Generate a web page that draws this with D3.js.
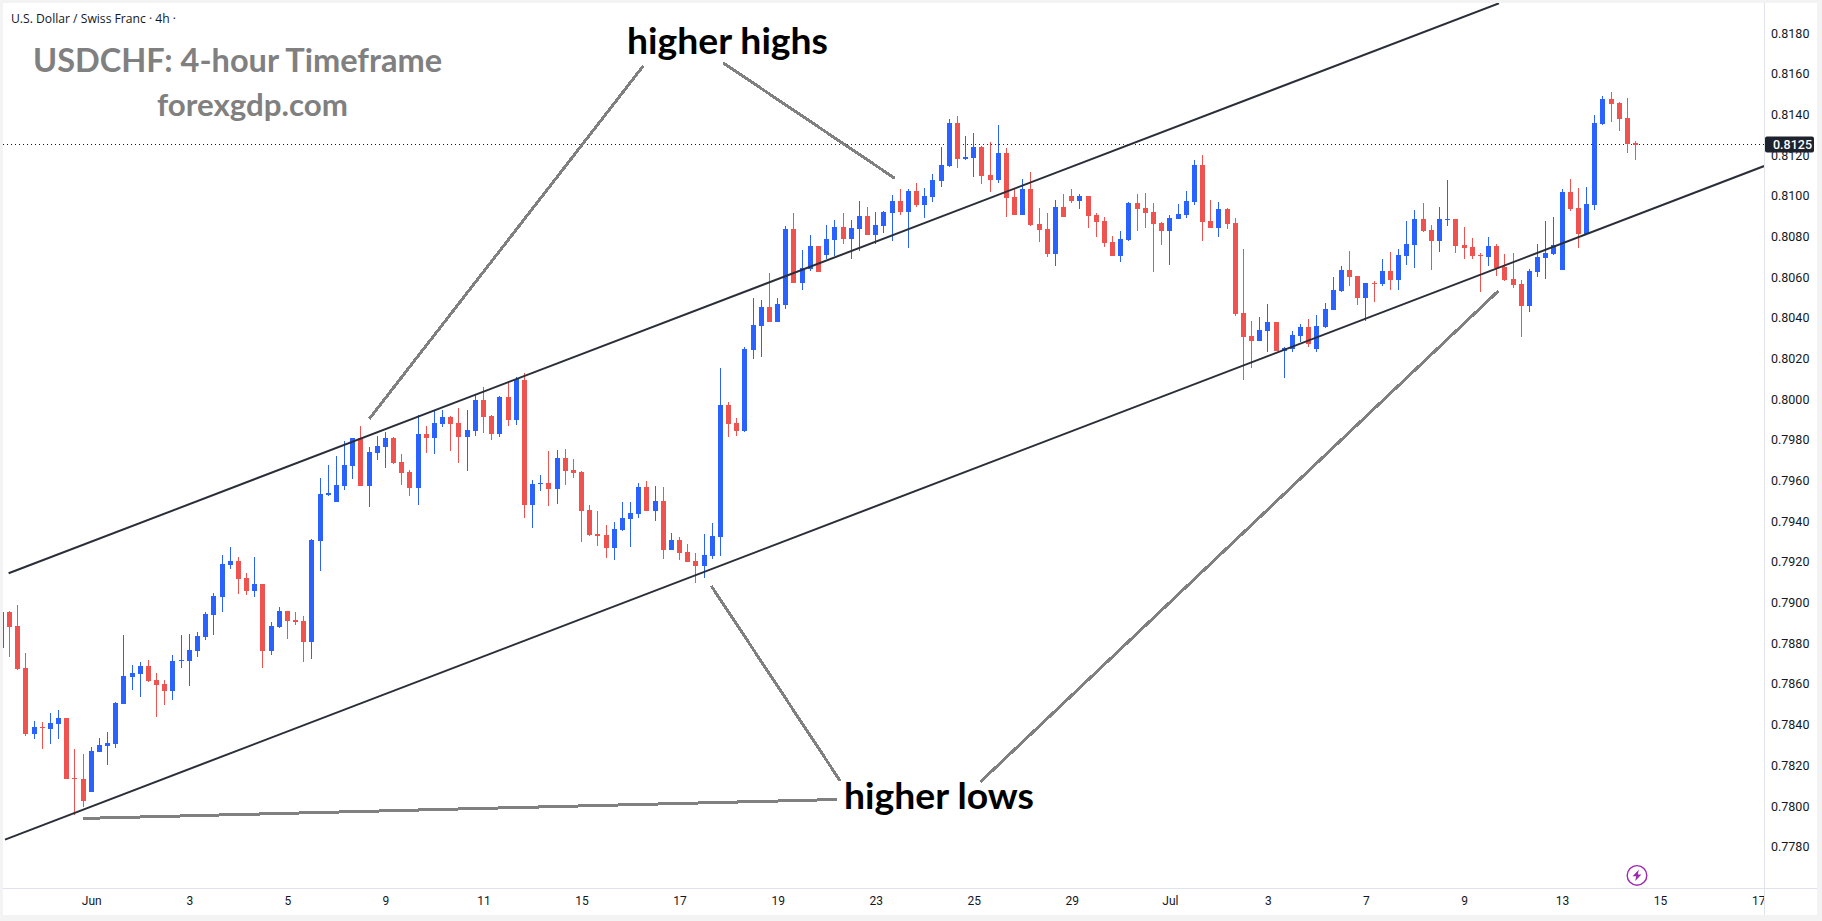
<!DOCTYPE html>
<html>
<head>
<meta charset="utf-8">
<title>USDCHF 4-hour</title>
<script src="https://cdn.jsdelivr.net/npm/d3@7"></script>
<style>
  html, body { margin: 0; padding: 0; background: #fff; }
  svg { display: block; }
  .axis text { font-family: Roboto, "Liberation Sans", sans-serif; fill: #131722; }
</style>
</head>
<body>
<svg id="chart" width="1822" height="921"></svg>
<script>
// USD/CHF candles, four-hour bars, oldest first
const opens = [
0.78779,0.78954,0.78885,0.78679,0.78354,0.78389,0.78379,0.78403,0.78433,0.78138,
0.78133,0.78069,0.78266,0.78295,0.78305,0.78502,0.78634,0.78649,0.78689,0.78620,
0.78600,0.78566,0.78713,0.78713,0.78762,0.78831,0.78939,0.79028,0.79185,0.79205,
0.79121,0.79057,0.79092,0.78762,0.78880,0.78959,0.78915,0.78910,0.78807,0.79303,
0.79529,0.79495,0.79574,0.79672,0.79810,0.79574,0.79736,0.79765,0.79810,0.79692,
0.79642,0.79564,0.79829,0.79810,0.79878,0.79913,0.79883,0.79814,0.79844,0.79996,
0.79918,0.79829,0.80011,0.79898,0.80095,0.79480,0.79583,0.79588,0.79558,0.79711,
0.79652,0.79642,0.79455,0.79337,0.79332,0.79268,0.79357,0.79411,0.79435,0.79568,
0.79450,0.79499,0.79258,0.79307,0.79248,0.79204,0.79180,0.79229,0.79322,0.79971,
0.79883,0.79843,0.80242,0.80360,0.80453,0.80379,0.80463,0.80836,0.80571,0.80640,
0.80753,0.80709,0.80783,0.80847,0.80788,0.80837,0.80901,0.80807,0.80852,0.80915,
0.80974,0.80920,0.81024,0.80955,0.80994,0.81073,0.81146,0.81358,0.81181,0.81186,
0.81240,0.81102,0.81078,0.81210,0.80994,0.80906,0.81033,0.80861,0.80837,0.80714,
0.80945,0.80999,0.80974,0.80999,0.80905,0.80876,0.80773,0.80704,0.80782,0.80964,
0.80940,0.80920,0.80866,0.80827,0.80886,0.80905,0.80969,0.81151,0.80876,0.80841,
0.80935,0.80866,0.80424,0.80310,0.80286,0.80335,0.80379,0.80237,0.80246,0.80310,
0.80355,0.80246,0.80355,0.80438,0.80532,0.80635,0.80605,0.80498,0.80571,0.80566,
0.80630,0.80586,0.80704,0.80758,0.80886,0.80832,0.80778,0.80881,0.80886,0.80758,
0.80748,0.80709,0.80699,0.80753,0.80650,0.80591,0.80566,0.80458,0.80625,0.80694,
0.80714,0.80635,0.81019,0.80940,0.80812,0.80955,0.81354,0.81477,0.81457,0.81383,
0.81260];
const highs = [
0.78956,0.78959,0.78988,0.78752,0.78418,0.78413,0.78458,0.78472,0.78433,0.78281,
0.78256,0.78290,0.78335,0.78364,0.78512,0.78841,0.78693,0.78708,0.78718,0.78654,
0.78620,0.78743,0.78841,0.78846,0.78856,0.78954,0.79047,0.79234,0.79274,0.79224,
0.79146,0.79224,0.79092,0.78905,0.78979,0.78959,0.78954,0.78934,0.79313,0.79613,
0.79677,0.79721,0.79795,0.79810,0.79868,0.79765,0.79819,0.79839,0.79814,0.79731,
0.79652,0.79923,0.79868,0.79942,0.79947,0.79918,0.79957,0.79947,0.80021,0.80060,
0.79923,0.80016,0.80090,0.80109,0.80129,0.79603,0.79628,0.79746,0.79750,0.79755,
0.79706,0.79647,0.79480,0.79450,0.79381,0.79396,0.79494,0.79494,0.79588,0.79598,
0.79573,0.79568,0.79342,0.79322,0.79288,0.79244,0.79337,0.79391,0.80153,0.79986,
0.79907,0.80256,0.80497,0.80487,0.80620,0.80497,0.80851,0.80915,0.80734,0.80807,
0.80753,0.80856,0.80881,0.80915,0.80881,0.80974,0.80945,0.80920,0.80925,0.81004,
0.81033,0.81033,0.81063,0.81038,0.81107,0.81240,0.81378,0.81392,0.81294,0.81309,
0.81245,0.81264,0.81348,0.81235,0.81033,0.81083,0.81117,0.80940,0.80915,0.80979,
0.81009,0.81033,0.81009,0.80999,0.80915,0.80895,0.80802,0.80827,0.80969,0.81009,
0.81013,0.80964,0.80871,0.80905,0.80959,0.81023,0.81176,0.81200,0.80979,0.80969,
0.80940,0.80891,0.80738,0.80384,0.80404,0.80468,0.80379,0.80256,0.80335,0.80369,
0.80394,0.80414,0.80473,0.80601,0.80655,0.80728,0.80605,0.80571,0.80581,0.80689,
0.80724,0.80738,0.80876,0.80930,0.80965,0.80856,0.80945,0.81078,0.80886,0.80847,
0.80792,0.80719,0.80797,0.80763,0.80714,0.80719,0.80586,0.80640,0.80763,0.80876,
0.80896,0.81033,0.81083,0.81038,0.81043,0.81398,0.81491,0.81511,0.81462,0.81482,
0.81270];
const lows = [
0.78779,0.78734,0.78669,0.78344,0.78330,0.78281,0.78305,0.78330,0.78133,0.77956,
0.77995,0.78069,0.78266,0.78202,0.78285,0.78502,0.78571,0.78536,0.78610,0.78438,
0.78497,0.78521,0.78679,0.78590,0.78733,0.78816,0.78841,0.78954,0.79165,0.79043,
0.79038,0.79028,0.78679,0.78743,0.78875,0.78821,0.78890,0.78710,0.78723,0.79156,
0.79524,0.79495,0.79554,0.79608,0.79574,0.79470,0.79701,0.79662,0.79682,0.79578,
0.79524,0.79480,0.79736,0.79731,0.79864,0.79746,0.79687,0.79647,0.79819,0.79834,
0.79800,0.79814,0.79868,0.79873,0.79416,0.79367,0.79549,0.79475,0.79485,0.79578,
0.79612,0.79298,0.79327,0.79278,0.79219,0.79209,0.79352,0.79273,0.79416,0.79450,
0.79401,0.79214,0.79258,0.79209,0.79199,0.79096,0.79121,0.79214,0.79229,0.79814,
0.79819,0.79838,0.80197,0.80207,0.80379,0.80379,0.80443,0.80571,0.80537,0.80630,
0.80625,0.80689,0.80704,0.80763,0.80689,0.80729,0.80807,0.80763,0.80817,0.80778,
0.80906,0.80743,0.80945,0.80891,0.80970,0.81043,0.81142,0.81137,0.81176,0.81092,
0.81058,0.81019,0.81063,0.80896,0.80906,0.80906,0.80852,0.80773,0.80699,0.80655,
0.80896,0.80965,0.80935,0.80841,0.80797,0.80748,0.80704,0.80674,0.80777,0.80827,
0.80841,0.80625,0.80758,0.80660,0.80886,0.80891,0.80954,0.80777,0.80841,0.80797,
0.80837,0.80409,0.80094,0.80153,0.80286,0.80232,0.80237,0.80104,0.80232,0.80281,
0.80256,0.80232,0.80350,0.80438,0.80527,0.80556,0.80463,0.80384,0.80478,0.80557,
0.80537,0.80537,0.80660,0.80645,0.80822,0.80635,0.80724,0.80851,0.80719,0.80689,
0.80689,0.80527,0.80655,0.80606,0.80581,0.80547,0.80306,0.80429,0.80601,0.80591,
0.80709,0.80635,0.80925,0.80743,0.80812,0.80931,0.81349,0.81364,0.81319,0.81211,
0.81177];
const closes = [
0.78956,0.78882,0.78674,0.78354,0.78389,0.78384,0.78408,0.78433,0.78133,0.78133,
0.78025,0.78271,0.78300,0.78310,0.78507,0.78639,0.78654,0.78689,0.78615,0.78595,
0.78566,0.78713,0.78718,0.78767,0.78836,0.78944,0.79033,0.79190,0.79205,0.79116,
0.79057,0.79092,0.78762,0.78885,0.78959,0.78910,0.78905,0.78807,0.79308,0.79534,
0.79539,0.79578,0.79677,0.79810,0.79574,0.79741,0.79770,0.79810,0.79687,0.79637,
0.79564,0.79829,0.79810,0.79883,0.79913,0.79878,0.79814,0.79849,0.79996,0.79913,
0.79829,0.80011,0.79898,0.80100,0.79480,0.79583,0.79588,0.79559,0.79711,0.79647,
0.79637,0.79450,0.79332,0.79327,0.79268,0.79362,0.79416,0.79440,0.79568,0.79450,
0.79499,0.79258,0.79307,0.79244,0.79199,0.79180,0.79234,0.79327,0.79971,0.79878,
0.79843,0.80246,0.80364,0.80453,0.80379,0.80468,0.80836,0.80571,0.80645,0.80753,
0.80625,0.80788,0.80847,0.80788,0.80842,0.80901,0.80807,0.80856,0.80920,0.80974,
0.80920,0.81024,0.80955,0.80999,0.81078,0.81151,0.81358,0.81181,0.81191,0.81240,
0.81097,0.81078,0.81210,0.80989,0.80906,0.81033,0.80856,0.80832,0.80714,0.80945,
0.80896,0.80974,0.80999,0.80900,0.80871,0.80768,0.80704,0.80787,0.80964,0.80935,
0.80915,0.80861,0.80827,0.80891,0.80910,0.80974,0.81151,0.80871,0.80841,0.80935,
0.80861,0.80419,0.80306,0.80286,0.80340,0.80379,0.80237,0.80251,0.80315,0.80355,
0.80271,0.80360,0.80443,0.80537,0.80635,0.80601,0.80497,0.80571,0.80566,0.80630,
0.80586,0.80709,0.80763,0.80886,0.80827,0.80778,0.80886,0.80886,0.80753,0.80743,
0.80704,0.80704,0.80753,0.80645,0.80586,0.80561,0.80458,0.80630,0.80699,0.80719,
0.80758,0.81019,0.80935,0.80812,0.80960,0.81359,0.81477,0.81452,0.81378,0.81255,
0.81250];

// Time axis: a label every twelve bars, past the last candle as well
const timeTickBars = [11,23,35,47,59,71,83,95,107,119,131,143,155,167,179,191,203,215];
const timeTickLabels = ["Jun","3","5","9","11","15","17","19","23","25","29","Jul","3","7","9","13","15","17"];

// Price axis labels
const priceTicks = [0.778,0.78,0.782,0.784,0.786,0.788,0.79,0.792,0.794,0.796,0.798,0.8,0.802,0.804,0.806,0.808,0.81,0.812,0.814,0.816,0.818];

// Channel lines as [bar, price] end points
const channelUpper = [[0.88,0.79144],[183.28,0.81946]];
const channelLower = [[0.44,0.77835],[215.74,0.81146]];

// Callout lines from the two captions to the swing points
const calloutLines = [
  [[78.55,0.81638],[45.02,0.79903]],
  [[88.34,0.81653],[109.33,0.81086]],
  [[86.88,0.79082],[102.66,0.78123]],
  [[119.8,0.78118],[183.23,0.80533]],
  [[10.02,0.77939],[102.3,0.78032]]
];

const lastPrice = closes[closes.length - 1];

const BLUE = "#2962ff", RED = "#ef5350", EDGE = "#f3f3f3", RULE = "#e0e3eb", INK = "#131722";

const pane = { left: 3, top: 3, right: 1764, bottom: 888, outerRight: 1817, outerBottom: 915 };

const x = d3.scaleLinear().domain([0, 200]).range([1.4, 1.4 + 200 * 8.171]);
const y = d3.scaleLinear().domain([0.818, 0.778]).range([33, 846.7]);

const svg = d3.select("#chart");

// Page frame and chart surface
svg.append("rect").attr("width", 1822).attr("height", 921).attr("fill", EDGE);
svg.append("rect").attr("x", pane.left).attr("y", pane.top)
  .attr("width", pane.outerRight - pane.left).attr("height", pane.outerBottom - pane.top).attr("fill", "#fff");

const defs = svg.append("defs");
defs.append("clipPath").attr("id", "plot-clip").append("rect")
  .attr("x", pane.left).attr("y", pane.top)
  .attr("width", pane.right - pane.left).attr("height", pane.bottom - pane.top);
defs.append("clipPath").attr("id", "time-clip").append("rect")
  .attr("x", pane.left).attr("y", pane.bottom)
  .attr("width", pane.right - pane.left).attr("height", pane.outerBottom - pane.bottom);

const plot = svg.append("g").attr("clip-path", "url(#plot-clip)");

// Price line at the last close
plot.append("line")
  .attr("x1", pane.left).attr("x2", pane.right)
  .attr("y1", Math.floor(y(lastPrice)) + 0.5).attr("y2", Math.floor(y(lastPrice)) + 0.5)
  .attr("stroke", INK).attr("stroke-width", 1).attr("stroke-dasharray", "1 3");

// Candles: one-pixel wick, five-pixel body, both snapped to whole pixels
const bars = d3.range(opens.length);
const candle = plot.append("g").selectAll("g").data(bars).join("g")
  .attr("fill", i => closes[i] >= opens[i] ? BLUE : RED);
candle.append("rect")
  .attr("x", i => Math.floor(x(i)))
  .attr("y", i => Math.round(y(highs[i])))
  .attr("width", 1)
  .attr("height", i => Math.max(1, Math.round(y(lows[i])) - Math.round(y(highs[i]))));
candle.append("rect")
  .attr("x", i => Math.floor(x(i)) - 2)
  .attr("y", i => Math.round(y(Math.max(opens[i], closes[i]))))
  .attr("width", 5)
  .attr("height", i => Math.max(1, Math.round(y(Math.min(opens[i], closes[i]))) - Math.round(y(Math.max(opens[i], closes[i])))));

const linePath = d3.line().x(d => x(d[0])).y(d => y(d[1]));

// Rising channel
plot.selectAll("path.channel").data([channelUpper, channelLower]).join("path")
  .attr("class", "channel").attr("d", linePath)
  .attr("fill", "none").attr("stroke", "#2a2e39").attr("stroke-width", 2);

// Callouts
plot.selectAll("path.callout").data(calloutLines).join("path")
  .attr("class", "callout").attr("d", linePath)
  .attr("fill", "none").attr("stroke", "#808080").attr("stroke-width", 3)
  .attr("shape-rendering", "crispEdges");

// Captions
const caption = (txt, xLeft, baseline, size, width, color) =>
  svg.append("text").attr("x", xLeft).attr("y", baseline).text(txt)
    .attr("font-family", "Lato, 'Open Sans', sans-serif").attr("font-weight", 700)
    .attr("font-size", size).attr("fill", color)
    .attr("textLength", width).attr("lengthAdjust", "spacingAndGlyphs");

caption("USDCHF: 4-hour Timeframe", 33, 72, 32, 409, "#808080");
caption("forexgdp.com", 157, 116, 30, 191, "#808080");
caption("higher highs", 627, 54, 37, 201, "#000");
caption("higher lows", 844, 809, 37, 190, "#000");

svg.append("text").attr("x", 11).attr("y", 23).text("U.S. Dollar / Swiss Franc \u00b7 4h \u00b7")
  .attr("font-family", "'Open Sans', sans-serif").attr("font-size", 12.5).attr("fill", INK)
  .attr("textLength", 165).attr("lengthAdjust", "spacingAndGlyphs");

// Axis rules
svg.append("line").attr("x1", pane.right + 0.5).attr("x2", pane.right + 0.5)
  .attr("y1", pane.top).attr("y2", pane.outerBottom).attr("stroke", RULE);
svg.append("line").attr("x1", pane.left).attr("x2", pane.outerRight)
  .attr("y1", pane.bottom + 0.5).attr("y2", pane.bottom + 0.5).attr("stroke", RULE);

// Price axis
svg.append("g").attr("class", "axis").attr("transform", `translate(${pane.right},0)`)
  .call(d3.axisRight(y).tickValues(priceTicks).tickSize(0).tickPadding(7).tickFormat(d3.format(".4f")))
  .call(g => g.select(".domain").remove())
  .selectAll("text").attr("font-size", 12.5);

// Time axis
svg.append("g").attr("clip-path", "url(#time-clip)")
  .append("g").attr("class", "axis")
  .attr("transform", `translate(0,${pane.bottom})`)
  .call(d3.axisBottom(x).tickValues(timeTickBars).tickSize(0).tickPadding(8)
    .tickFormat((d, i) => timeTickLabels[i]))
  .call(g => g.select(".domain").remove())
  .selectAll("text").attr("font-size", 12);

// Last price tag
const tagY = y(lastPrice);
svg.append("rect").attr("x", pane.right + 1).attr("y", tagY - 8.5).attr("width", 49).attr("height", 16)
  .attr("rx", 2).attr("fill", "#1e222d");
svg.append("text").attr("x", pane.right + 9).attr("y", tagY + 4)
  .attr("font-family", "Roboto, sans-serif").attr("font-size", 12.5).attr("font-weight", 500)
  .attr("fill", "#fff").text(d3.format(".4f")(lastPrice));

// Session badge
const badge = svg.append("g").attr("transform", "translate(1637,875.4)");
badge.append("circle").attr("r", 9.8).attr("fill", "#fff").attr("stroke", "#9c27b0").attr("stroke-width", 1.4);
badge.append("path").attr("d", "M1.8,-5.6 L-4.4,0.8 L-0.8,0.8 L-1.8,5.6 L4.4,-0.8 L0.8,-0.8 Z").attr("fill", "#9c27b0");
</script>
</body>
</html>
